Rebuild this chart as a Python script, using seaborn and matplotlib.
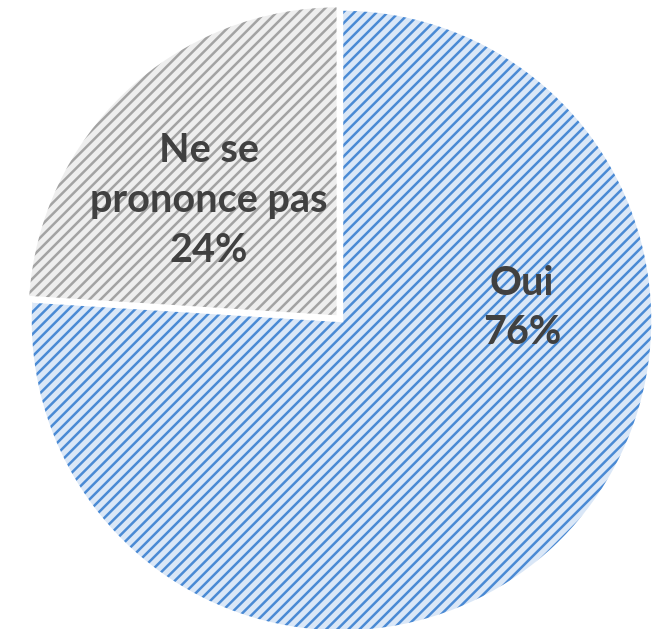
import matplotlib
matplotlib.use("Agg")
import matplotlib.pyplot as plt
import seaborn as sns

categories = ["Ne se prononce pas", "Oui"]
values = [24, 76]
labels = ["Ne se\nprononce pas\n24%", "Oui\n76%"]

sns.set_style("white")
plt.rcParams["hatch.linewidth"] = 1.8
plt.rcParams["font.family"] = ["Lato", "DejaVu Sans"]

face_colors = ["#eeeeee", "#dae7f7"]
hatch_colors = ["#a3a3a3", "#4a8ad4"]

fig = plt.figure(figsize=(6.53, 6.29), dpi=100)
ax = fig.add_axes([0, 0, 1, 1])

wedges, _ = ax.pie(values, startangle=90, counterclock=True,
                   explode=[0.015, 0.0], radius=1.0,
                   wedgeprops=dict(linewidth=0))
for w, fc, hc in zip(wedges, face_colors, hatch_colors):
    w.set_facecolor(fc)
    w.set_edgecolor(hc)
    w.set_hatch("///")
    w.set_linewidth(0)

outline, _ = ax.pie(values, startangle=90, counterclock=True,
                    explode=[0.015, 0.0], radius=1.0,
                    wedgeprops=dict(fill=False, edgecolor="white", linewidth=2.5))

label_pos = [(-0.425, 0.385), (0.58, 0.04)]
for (x, y), t in zip(label_pos, labels):
    ax.text(x, y, t, ha="center", va="center", fontsize=28.5, fontweight="bold",
            color="#404040", linespacing=1.42)

ax.set_xlim(-1.0963, 1.0)
ax.set_ylim(-0.9904, 1.0289)
ax.set_aspect("auto")
ax.axis("off")
fig.savefig("out.png", dpi=100)
